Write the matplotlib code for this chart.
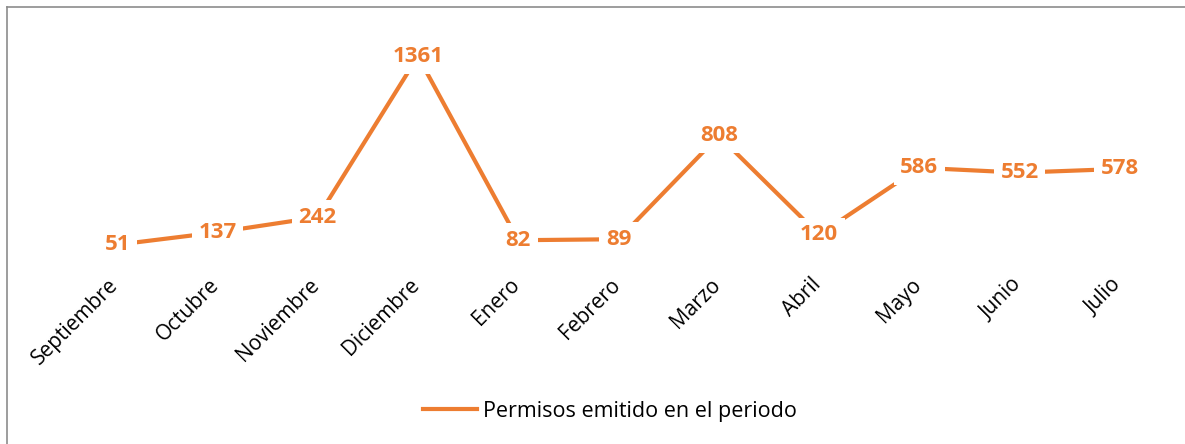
import matplotlib
matplotlib.use("Agg")
from matplotlib import pyplot as plt
from matplotlib.lines import Line2D
from matplotlib.transforms import ScaledTranslation

meses = ["Septiembre", "Octubre", "Noviembre", "Diciembre", "Enero", "Febrero",
         "Marzo", "Abril", "Mayo", "Junio", "Julio"]
permisos = [51, 137, 242, 1361, 82, 89, 808, 120, 586, 552, 578]
serie = "Permisos emitido en el periodo"

naranja = "#ED7D31"
plt.rcParams['font.family'] = ['Open Sans', 'DejaVu Sans']

fig = plt.figure(figsize=(11.85, 4.44), dpi=100)
ax = fig.add_axes([67 / 1185, 0.4324, 1103 / 1185, 0.5181])

x = list(range(len(meses)))
ax.plot(x, permisos, color=naranja, linewidth=3, solid_capstyle='butt', zorder=2,
        label=serie)

for xi, v in zip(x, permisos):
    ax.text(xi, v, str(v), ha='center', va='center', fontsize=16, fontweight='bold',
            color=naranja, zorder=3,
            bbox=dict(boxstyle='square,pad=0.3', fc='white', ec='none'))

ax.set_xlim(-0.5, len(meses) - 0.5)
ax.set_ylim(0, 1600)
ax.set_xticks(x)
ax.set_xticklabels(meses, rotation=45, ha='right', va='top', rotation_mode='anchor',
                   fontsize=15)
ax.tick_params(axis='x', length=0, pad=16)
desplazar = ScaledTranslation(-9 / 100, 0, fig.dpi_scale_trans)
for lbl in ax.get_xticklabels():
    lbl.set_transform(lbl.get_transform() + desplazar)
ax.set_yticks([])
for s in ax.spines.values():
    s.set_visible(False)

fig.legend(handles=[Line2D([], [], color=naranja, linewidth=3)], labels=[serie],
           loc='center', bbox_to_anchor=(610 / 1185, 1 - 411 / 444), frameon=False,
           fontsize=15.5, handlelength=2.5, handletextpad=0.25)

# borde del grafico (solo arriba e izquierda visibles)
fig.add_artist(Line2D([6.5 / 1185, 6.5 / 1185], [0, 1 - 7 / 444], color='#8c8c8c',
                      linewidth=1.2, transform=fig.transFigure))
fig.add_artist(Line2D([6.5 / 1185, 1], [1 - 7 / 444, 1 - 7 / 444], color='#8c8c8c',
                      linewidth=1.2, transform=fig.transFigure))

fig.savefig("out.png", dpi=100, facecolor='white')
